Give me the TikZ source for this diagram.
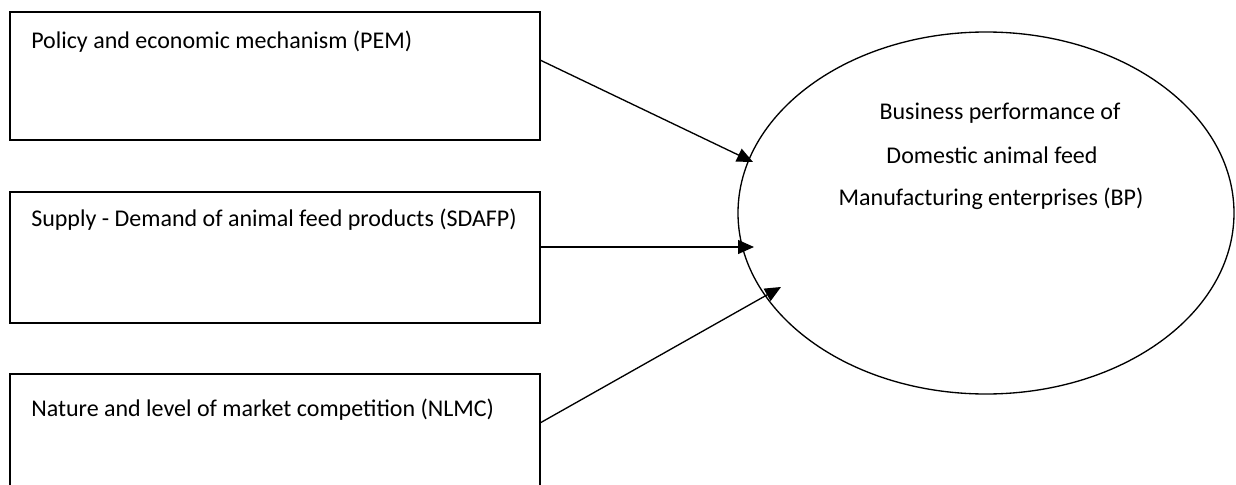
\documentclass[tikz,border=0pt]{standalone}
\usepackage{fontspec}
\setmainfont{Carlito}
\usetikzlibrary{shapes.geometric,arrows.meta,calc}
\tikzset{
  boxnode/.style={draw=black, line width=1pt, minimum width=397.5pt, inner sep=0pt, outer sep=0pt, anchor=north west},
  lbl/.style={font=\fontsize{18pt}{21pt}\selectfont, inner sep=0pt, anchor=base west},
  ovalnode/.style={draw=black, line width=1pt, ellipse, minimum width=372pt, minimum height=271.5pt, inner sep=0pt, outer sep=0pt},
  otext/.style={font=\fontsize{18pt}{21pt}\selectfont, inner sep=0pt, anchor=base},
  conn/.style={draw=black, line width=1pt, -{Triangle[length=12pt, width=10.5pt]}}
}
\begin{document}
\begin{tikzpicture}[x=0.75pt, y=-0.75pt]
\useasboundingbox (0,0) rectangle (1236,485);
\clip (0,0) rectangle (1236,485);
\fill[white] (0,0) rectangle (1236,485);
% boxes
\node[boxnode, minimum height=96pt] (b1) at (10,12) {};
\node[boxnode, minimum height=98.25pt] (b2) at (10,192) {};
\node[boxnode, minimum height=97.5pt] (b3) at (10,374) {};
\node[lbl] (t1) at (31,49) {Policy and economic mechanism (PEM)};
\node[lbl] (t2) at (31,226) {Supply - Demand of animal feed products (SDAFP)};
\node[lbl] (t3) at (31,416) {Nature and level of market competition (NLMC)};
% ellipse
\node[ovalnode] (bp) at (986,213) {};
\node[otext] (e1) at (1000,120) {Business performance of};
\node[otext] (e2) at (992,163) {Domestic animal feed};
\node[otext] (e3) at (991,205) {Manufacturing enterprises (BP)};
% connector ends
\coordinate (s1) at ($(b1.north east)+(0,48)$);
\coordinate (s2) at ($(b2.north east)+(0,55)$);
\coordinate (s3) at ($(b3.north east)+(0,49)$);
\coordinate (p1) at (753,162);
\coordinate (p2) at (754,247);
\coordinate (p3) at (781,287);
\draw[conn] (s1) -- (p1);
\draw[conn] (s2) -- (p2);
\draw[conn] (s3) -- (p3);
\end{tikzpicture}
\end{document}
